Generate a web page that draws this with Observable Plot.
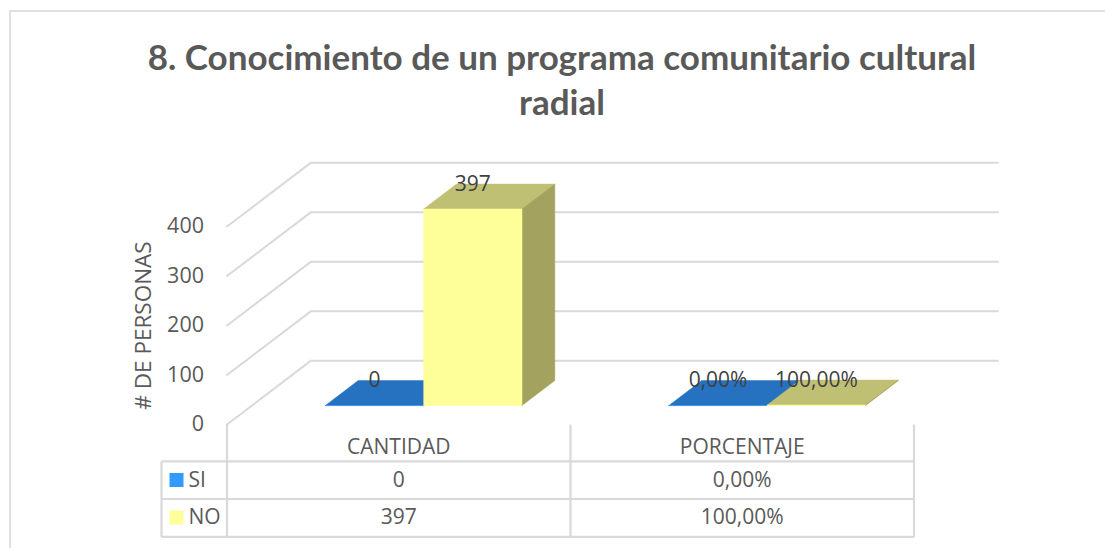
<!DOCTYPE html>
<html>
<head>
<meta charset="utf-8">
<script src="https://cdn.jsdelivr.net/npm/d3@7"></script>
<script src="https://cdn.jsdelivr.net/npm/@observablehq/plot@0.6"></script>
<style>
  html, body { margin: 0; padding: 0; background: #fff; width: 1105px; height: 548px; overflow: hidden; }
  #frame { position: absolute; left: 9px; top: 10px; width: 1110px; height: 560px; border: 2px solid #e0e0e0; box-sizing: border-box; }
  #title { position: absolute; left: 12px; top: 34px; width: 1100px; text-align: center; font: bold 35px/45px Lato, "Open Sans", sans-serif; color: #595959; }
  #chart { position: absolute; left: 0; top: 140px; }
  #chart svg { display: block; background: transparent; }
</style>
</head>
<body>
<div id="frame"></div>
<div id="title"></div>
<div id="chart"></div>
<script>
const titleLines = ["8. Conocimiento de un programa comunitario cultural", "radial"];
const categories = ["CANTIDAD", "PORCENTAJE"];
const siValues = [0, 0];
const noValues = [397, 1];
const siLabels = ["0", "0,00%"];
const noLabels = ["397", "100,00%"];
const yTicks = [0, 100, 200, 300, 400];
const seriesNames = ["SI", "NO"];
const seriesColors = ["#3399ff", "#ffff99"];

document.getElementById("title").innerHTML = titleLines.join("<br>");

const PXU = 343.5, PYU = 0.4963;           // pixels per x unit, per y unit
const DX = 84 / PXU, DY = 64 / PYU;        // oblique depth vector
const Z0 = 0.297, Z1 = 0.6875, W = 0.2862; // bar depth span, bar width
const P = (u, v, z) => ({x: u + z * DX, y: v + z * DY});

const GRID = "#d9d9d9", TXT = "#595959";
const marks = [];

// wall gridlines
for (const t of yTicks) {
  marks.push(Plot.line([P(0, t, 0), P(0, t, 1), P(2, t, 1)], {x: "x", y: "y", stroke: GRID, strokeWidth: 2}));
}

// 3D bars
function bar(u0, u1, v, front, top, side) {
  const poly = (pts, fill) => Plot.line(pts.concat([pts[0]]), {x: "x", y: "y", fill, stroke: fill, strokeWidth: 0.5});
  return [
    poly([P(u0, v, Z0), P(u1, v, Z0), P(u1, v, Z1), P(u0, v, Z1)], top),
    poly([P(u1, 0, Z0), P(u1, 0, Z1), P(u1, v, Z1), P(u1, v, Z0)], side),
    poly([P(u0, 0, Z0), P(u1, 0, Z0), P(u1, v, Z0), P(u0, v, Z0)], front)
  ];
}
categories.forEach((c, i) => {
  const mid = i + 0.5;
  marks.push(...bar(mid - W, mid, siValues[i], seriesColors[0], "#2672c0", "#1f5c9a"));
  marks.push(...bar(mid, mid + W, noValues[i], seriesColors[1], "#c0c074", "#a3a35f"));
});

// data labels
categories.forEach((c, i) => {
  const mid = i + 0.5;
  const lab = (u, v, text) => Plot.text([text], {
    x: [P(u, v, Z0).x], y: [P(u, v, Z1).y], text: d => d, fontSize: 21, fill: "#404040"
  });
  marks.push(lab(mid - W / 2, siValues[i], siLabels[i]));
  marks.push(lab(mid + W / 2, noValues[i], noLabels[i]));
});

// data table: lines
const LEFT = -65.5 / PXU;
const rowLines = [37, 74.7, 112.7];
const hLine = (x1, x2, y1, y2) => Plot.link([0], {
  x1: () => x1, x2: () => x2, y1: () => y1, y2: () => y2, stroke: GRID, strokeWidth: 2.2
});
rowLines.forEach(px => marks.push(hLine(LEFT, 2, -px / PYU, -px / PYU)));
[0, 1, 2].forEach(x => marks.push(hLine(x, x, 0, -rowLines[2] / PYU)));
marks.push(hLine(LEFT, LEFT, -rowLines[0] / PYU, -rowLines[2] / PYU));

// data table: text
const cellFont = {fontSize: 21, fill: TXT};
const rowDy = [55.5, 93];
categories.forEach((c, i) => {
  marks.push(Plot.text([c], {x: [i + 0.5], y: [0], dy: 23, text: d => d, ...cellFont}));
  marks.push(Plot.text([siLabels[i]], {x: [i + 0.5], y: [0], dy: rowDy[0], text: d => d, ...cellFont}));
  marks.push(Plot.text([noLabels[i]], {x: [i + 0.5], y: [0], dy: rowDy[1], text: d => d, ...cellFont}));
});

// legend keys in the table
seriesNames.forEach((s, i) => {
  marks.push(Plot.dot([s], {x: [0], y: [0], dx: -50.5, dy: rowDy[i], symbol: "square", r: 7.9, fill: seriesColors[i]}));
  marks.push(Plot.text([s], {x: [0], y: [0], dx: -38.5, dy: rowDy[i], text: d => d, textAnchor: "start", ...cellFont}));
});

// y axis
marks.push(Plot.axisY(yTicks, {anchor: "left", tickSize: 0, tickPadding: 23, fontSize: 21.5, color: TXT, label: null, tickFormat: d => String(d)}));
marks.push(Plot.text(["# DE PERSONAS"], {x: [0], y: [200], dx: -83, rotate: -90, text: d => d, fontSize: 22.5, fill: TXT}));

const chart = Plot.plot({
  width: 1105,
  height: 408,
  marginLeft: 226.5,
  marginRight: 191.5,
  marginTop: 86,
  marginBottom: 124,
  x: {domain: [0, 2], axis: null},
  y: {domain: [0, 400], axis: null},
  style: {fontFamily: '"Open Sans", sans-serif', fontSize: "21px", overflow: "visible"},
  marks
});
document.getElementById("chart").append(chart);
</script>
</body>
</html>
